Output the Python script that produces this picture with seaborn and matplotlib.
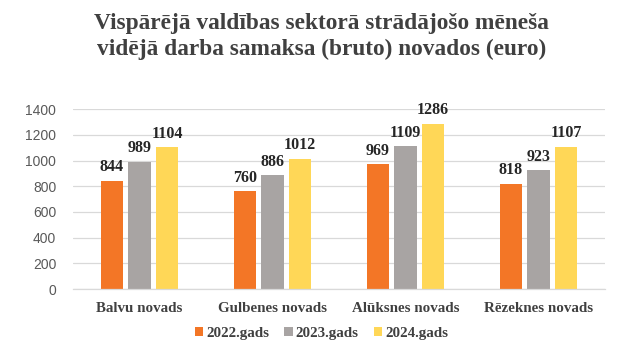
import matplotlib
matplotlib.use("Agg")
import matplotlib.pyplot as plt
import seaborn as sns
import pandas as pd

categories = ["Balvu novads", "Gulbenes novads", "Alūksnes novads", "Rēzeknes novads"]
years = ["2022.gads", "2023.gads", "2024.gads"]
values_2022 = [844, 760, 969, 818]
values_2023 = [989, 886, 1109, 923]
values_2024 = [1104, 1012, 1286, 1107]
yticks = [0, 200, 400, 600, 800, 1000, 1200, 1400]
colors = ["#F37626", "#A8A4A3", "#FFD757"]

rows = []
for y, vals in zip(years, [values_2022, values_2023, values_2024]):
    for c, v in zip(categories, vals):
        rows.append({"novads": c, "gads": y, "value": v})
df = pd.DataFrame(rows)

sns.set_theme(style="white")
serif = ["Liberation Serif", "DejaVu Serif"]
sans = ["Liberation Sans", "DejaVu Sans"]

fig = plt.figure(figsize=(6.43, 3.6), dpi=100)
ax = fig.add_axes([0.1135, 0.197, 0.8275, 0.5])

sns.barplot(data=df, x="novads", y="value", hue="gads", palette=colors,
            width=0.62, gap=0.18, ax=ax, legend=True, saturation=1,
            edgecolor="none")

for cont in ax.containers:
    ax.bar_label(cont, fmt="%d", padding=4, fontsize=11.5, fontweight="bold",
                 family=serif, color="#262626")

ax.set_ylim(0, 1400)
ax.set_yticks(yticks)
ax.set_yticklabels([str(t) for t in yticks], family=sans, fontsize=10, color="#595959")
ax.set_xlim(-0.5, 3.5)
ax.set_xlabel("")
ax.set_ylabel("")
for lbl in ax.get_xticklabels():
    lbl.set_fontfamily(serif)
    lbl.set_fontweight("bold")
    lbl.set_fontsize(10.8)
    lbl.set_color("#404040")
ax.tick_params(axis="y", length=0, pad=12)
ax.tick_params(axis="x", length=0, pad=9)
ax.grid(axis="y", color="#D9D9D9", linewidth=0.9)
ax.set_axisbelow(True)
for s in ["top", "right", "left"]:
    ax.spines[s].set_visible(False)
ax.spines["bottom"].set_color("#D9D9D9")
ax.spines["bottom"].set_linewidth(0.9)

handles, labels = ax.get_legend_handles_labels()
ax.get_legend().remove()
fig.legend(handles, labels, loc="center", bbox_to_anchor=(0.5, 0.075),
           ncol=3, frameon=False, handlelength=0.55, handleheight=0.55,
           handletextpad=0.2, columnspacing=1.0,
           prop={"family": serif, "weight": "bold", "size": 10.8},
           labelcolor="#404040")

fig.text(0.5, 0.965, "Vispārējā valdības sektorā strādājošo mēneša\nvidējā darba samaksa (bruto) novados (euro)",
         ha="center", va="top", family=serif, fontweight="bold", fontsize=16.8,
         color="#404040", linespacing=1.3)

fig.savefig("out.png", dpi=100)
